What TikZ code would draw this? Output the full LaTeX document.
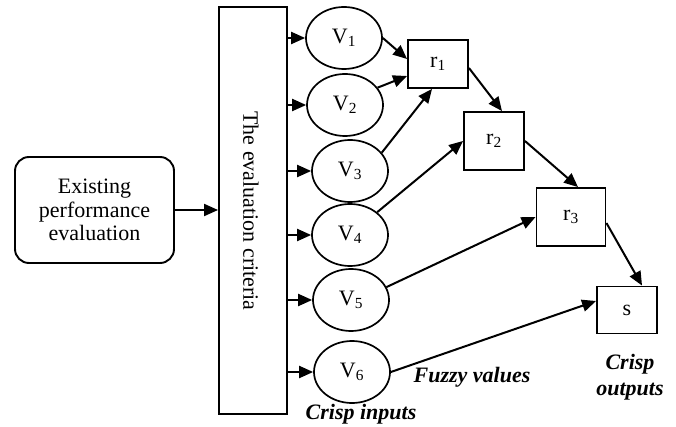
\documentclass[tikz,border=0pt]{standalone}
\usepackage{fontspec}
\setmainfont{Liberation Serif}
\usetikzlibrary{arrows.meta,shapes.geometric}

\tikzset{
  every node/.style={font=\fontsize{22}{23.5}\selectfont},
  box/.style={draw, line width=1.9pt, inner sep=0pt},
  inp/.style={draw, ellipse, line width=1.7pt, minimum width=76pt, minimum height=62pt, inner sep=0pt},
  rule/.style={draw, rectangle, line width=1.9pt, inner sep=0pt},
  link/.style={line width=2pt, -{Triangle[length=14pt,width=12pt]}},
  note/.style={font=\fontsize{22}{26}\selectfont\bfseries\itshape, align=center, inner sep=0pt}
}

\begin{document}
\begin{tikzpicture}[x=1pt, y=-1pt]
  \useasboundingbox (0,0) rectangle (676,427);

  % source and criteria blocks
  \node[box, rounded corners=14pt, minimum width=159pt, minimum height=106pt, align=center]
    (exist) at (94.5,210) {Existing\\performance\\evaluation};
  \node[box, minimum width=68pt, minimum height=407pt] (crit) at (253,210.5) {};
  \node[rotate=-90, inner sep=0pt] (critlabel) at (251,211) {The evaluation criteria};

  % crisp input variables
  \node[inp] (V1) at (344,38)  {V\textsubscript{1}};
  \node[inp] (V2) at (345,105) {V\textsubscript{2}};
  \node[inp] (V3) at (350,171) {V\textsubscript{3}};
  \node[inp] (V4) at (350,235) {V\textsubscript{4}};
  \node[inp] (V5) at (351,300) {V\textsubscript{5}};
  \node[inp] (V6) at (352,372) {V\textsubscript{6}};

  % rule blocks and output
  \node[rule, minimum width=60pt, minimum height=48pt] (r1) at (438,64)  {r\textsubscript{1}};
  \node[rule, minimum width=60pt, minimum height=58pt] (r2) at (494,141) {r\textsubscript{2}};
  \node[rule, minimum width=69pt, minimum height=58pt] (r3) at (571,217) {r\textsubscript{3}};
  \node[rule, minimum width=60pt, minimum height=47pt] (s)  at (627,310) {s};

  % labels
  \node[note] (lin)  at (361,414) {Crisp inputs};
  \node[note] (lfz)  at (472,377) {Fuzzy values};
  \node[note] (lout) at (630,377) {Crisp\\outputs};

  % connectors
  \draw[link] (exist.east) -- (crit.west |- exist.east);
  \foreach \v in {V1,V2,V3,V4,V5,V6}
    \draw[link] (crit.east |- \v.west) -- (\v.west);

  \draw[link] (V1.east) -- ([yshift=5pt]r1.west);
  \draw[link] (V2.28) -- ([yshift=-12pt]r1.west);
  \draw[link] (V3.30) -- ([xshift=-6pt]r1.south);
  \draw[link] (V4.40) -- (r2.west);
  \draw[link] (V5.20) -- (r3.west);
  \draw[link] (V6.east) -- ([yshift=9pt]s.west);

  \draw[link] ([yshift=-4pt]r1.east) -- ([xshift=8pt]r2.north);
  \draw[link] (r2.east) -- ([xshift=7pt]r3.north);
  \draw[link] ([yshift=-6pt]r3.east) -- ([xshift=15pt]s.north);
\end{tikzpicture}
\end{document}
